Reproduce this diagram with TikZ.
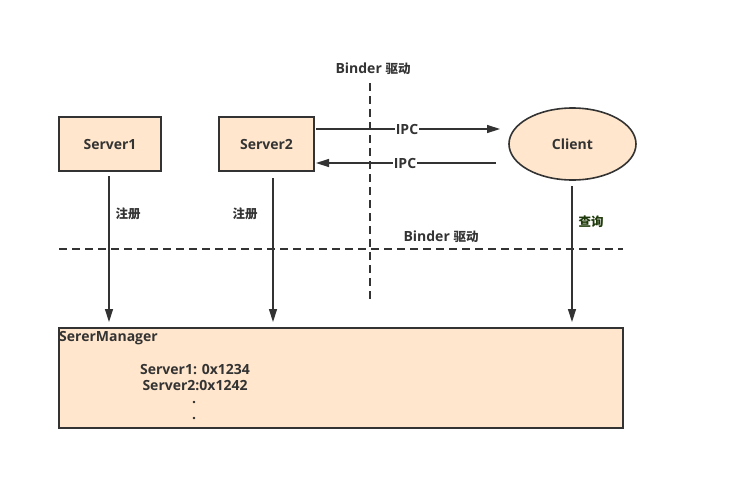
\documentclass[tikz,border=0pt]{standalone}
\usepackage{fontspec}
\setmainfont{Open Sans}
\newfontfamily\cjk{Noto Sans CJK SC}
\usetikzlibrary{arrows.meta,shapes.geometric}
\definecolor{boxfill}{HTML}{FFE6CC}
\definecolor{ink}{HTML}{333333}
\definecolor{qgreen}{HTML}{1F3A0A}
\tikzset{
  box/.style={draw=ink, line width=1.6pt, fill=boxfill, font=\bfseries\fontsize{14}{16}\selectfont, text=ink},
  arr/.style={draw=ink, line width=1.4pt, -{Triangle[length=13pt,width=8pt]}},
  dash line/.style={draw=ink, line width=1.4pt, dash pattern=on 8pt off 5pt},
  lbl/.style={font=\bfseries\fontsize{14}{16}\selectfont, text=ink, inner sep=1pt},
  cjklbl/.style={font=\cjk\bfseries\fontsize{12.5}{14}\selectfont, text=ink, inner sep=1pt}
}
\begin{document}
\begin{tikzpicture}[x=1pt,y=-1pt]
\useasboundingbox (0,0) rectangle (734,491);
% nodes
\node[box, minimum width=102pt, minimum height=54pt] (s1) at (110,144) {Server1};
\node[box, minimum width=95pt, minimum height=54pt] (s2) at (266.5,144) {Server2};
\node[box, ellipse, minimum width=127pt, minimum height=72pt] (cl) at (572.5,144) {Client};
\node[draw=ink, line width=1.6pt, fill=boxfill, minimum width=564pt, minimum height=100pt, inner sep=0pt] (sm) at (341,378) {};
\node[lbl, anchor=west] (smt) at (58,338) {SererManager};
\node[lbl] (e1) at (195,370) {Server1: 0x1234};
\node[lbl] (e2) at (195,386) {Server2:0x1242};
\node[lbl] (d1) at (194,403) {.};
\node[lbl] (d2) at (194,419) {.};
% dashed lines
\coordinate (vt) at (370,83);
\coordinate (vb) at (370,300);
\draw[dash line] (vt) -- (vb);
\coordinate (hl) at (59,249);
\coordinate (hr) at (623,249);
\draw[dash line] (hl) -- (hr);
\node[lbl] (b1) at (373,69) {Binder {\cjk\fontsize{12.5}{14}\selectfont 驱动}};
\node[lbl] (b2) at (441,237) {Binder {\cjk\fontsize{12.5}{14}\selectfont 驱动}};
% IPC arrows
\coordinate (i1s) at (316,129);
\coordinate (i1e) at (500,129);
\draw[arr] (i1s) -- node[lbl, fill=white, inner sep=1pt, xshift=-1pt] (ipc1) {IPC} (i1e);
\coordinate (i2s) at (496,163);
\coordinate (i2e) at (316,163);
\draw[arr] (i2s) -- node[lbl, fill=white, inner sep=1pt, xshift=-1pt] (ipc2) {IPC} (i2e);
% down arrows
\coordinate (a1s) at (109,176);
\coordinate (a1e) at (109,322);
\draw[arr] (a1s) -- (a1e);
\coordinate (a2s) at (273,178);
\coordinate (a2e) at (273,322);
\draw[arr] (a2s) -- (a2e);
\coordinate (a3s) at (572,186);
\coordinate (a3e) at (572,322);
\draw[arr] (a3s) -- (a3e);
\node[cjklbl] (r1) at (128,214) {注册};
\node[cjklbl] (r2) at (245,214) {注册};
\node[cjklbl, text=qgreen] (q) at (591,222) {查询};
\end{tikzpicture}
\end{document}
